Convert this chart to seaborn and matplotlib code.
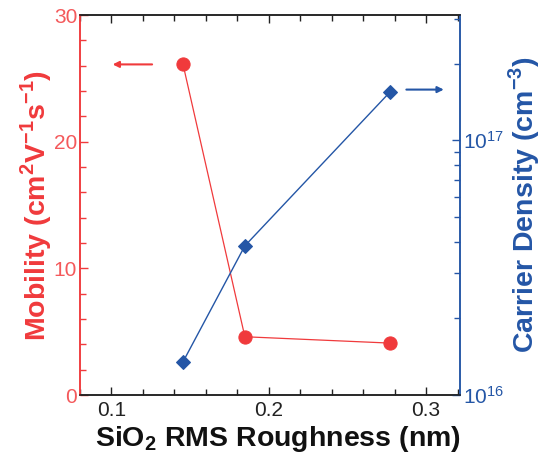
import numpy as np
import pandas as pd
import matplotlib
matplotlib.use("Agg")
import matplotlib.pyplot as plt
from matplotlib.ticker import MultipleLocator, LogLocator, NullFormatter
import seaborn as sns

roughness = [0.1455, 0.1848, 0.2768]
mobility = [26.1, 4.6, 4.1]
carrier_density = [1.35e16, 3.85e16, 1.54e17]

RED = "#f03a3c"
RED_TXT = "#f4595b"
BLUE = "#2456a6"

sns.set_style("ticks")
plt.rcParams['font.family'] = ['Liberation Sans', 'DejaVu Sans']
plt.rcParams['mathtext.fontset'] = 'custom'
plt.rcParams['mathtext.rm'] = 'Liberation Sans'
plt.rcParams['mathtext.bf'] = 'Liberation Sans:bold'

df = pd.DataFrame({"x": roughness, "mu": mobility, "n": carrier_density})

fig = plt.figure(figsize=(5.43, 4.59), dpi=100)
ax = fig.add_axes([0.1473, 0.1394, 0.6997, 0.8279])
ax2 = ax.twinx()

sns.lineplot(data=df, x="x", y="mu", ax=ax, color=RED, marker="o", markersize=9.5,
             markeredgecolor=RED, linewidth=0.9)
sns.lineplot(data=df, x="x", y="n", ax=ax2, color=BLUE, marker="D", markersize=7,
             markeredgecolor=BLUE, linewidth=1.0)

ax.set_xlim(0.08, 0.3215)
ax.set_ylim(0, 30)
ax2.set_yscale("log")
ax2.set_ylim(1e16, 3.1e17)

ax.xaxis.set_major_locator(MultipleLocator(0.1))
ax.xaxis.set_minor_locator(MultipleLocator(0.02))
ax.yaxis.set_major_locator(MultipleLocator(10))
ax.yaxis.set_minor_locator(MultipleLocator(2))
ax2.yaxis.set_major_locator(LogLocator(base=10))
ax2.yaxis.set_minor_locator(LogLocator(base=10, subs=np.arange(2, 10)))
ax2.yaxis.set_minor_formatter(NullFormatter())

ax.tick_params(axis="x", which="both", direction="in", top=True, colors="#222222",
               labelsize=15, pad=4)
ax.tick_params(axis="x", which="major", length=6, width=1)
ax.tick_params(axis="x", which="minor", length=4, width=1)
ax.tick_params(axis="y", which="both", direction="in", colors=RED, labelcolor=RED_TXT,
               labelsize=15, pad=2)
ax.tick_params(axis="y", which="major", length=6, width=1)
ax.tick_params(axis="y", which="minor", length=4, width=1)
ax2.tick_params(axis="y", which="both", direction="in", colors=BLUE, labelsize=15, pad=2)
ax2.tick_params(axis="y", which="major", length=6, width=1)
ax2.tick_params(axis="y", which="minor", length=4, width=1)

for a in (ax, ax2):
    a.spines["top"].set_color("#222222")
    a.spines["bottom"].set_color("#222222")
    a.spines["left"].set_color(RED)
    a.spines["right"].set_color(BLUE)
    for s in a.spines.values():
        s.set_linewidth(1.1)

ax.set_xticks([0.1, 0.2, 0.3])
ax.set_xticklabels(["0.1", "0.2", "0.3"])

ax.set_xlabel(r"SiO$_\mathbf{2}$ RMS Roughness (nm)", fontsize=20.5, fontweight="bold",
              color="#111111", labelpad=3, x=0.521, ha="center")
ax.set_ylabel(r"Mobility (cm$^\mathbf{2}$V$^\mathbf{-1}$s$^\mathbf{-1}$)", fontsize=20.5,
              fontweight="bold", color=RED, labelpad=0)
ax2.set_ylabel(r"Carrier Density (cm$^\mathbf{-3}$)", fontsize=20.5, fontweight="bold",
               color=BLUE, labelpad=2)

ax.annotate("", xy=(0.099, 26.1), xytext=(0.1276, 26.1),
            arrowprops=dict(arrowstyle="-|>", color=RED, lw=1.5, mutation_scale=9))
ax2.annotate("", xy=(0.313, 1.58e17), xytext=(0.2857, 1.58e17),
             arrowprops=dict(arrowstyle="-|>", color=BLUE, lw=1.5, mutation_scale=9))

fig.savefig("out.png", dpi=100)
